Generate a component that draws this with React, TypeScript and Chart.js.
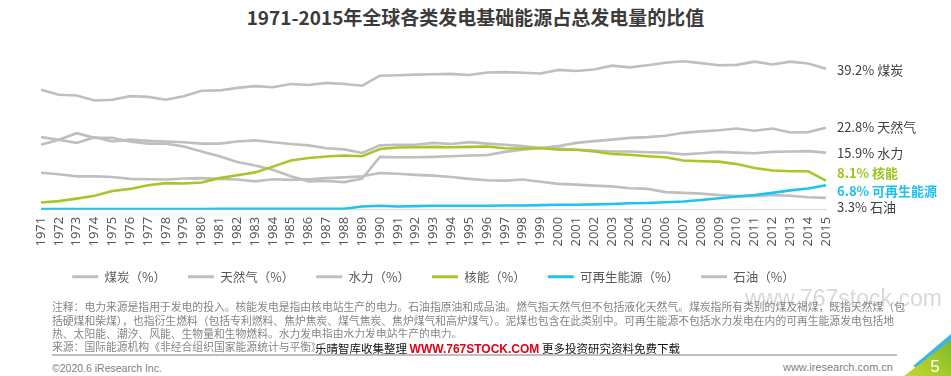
import React, { useEffect, useRef } from "react";
import { Chart, registerables } from "chart.js";
Chart.register(...registerables);

const years = ["1971","1972","1973","1974","1975","1976","1977","1978","1979","1980","1981","1982","1983","1984","1985","1986","1987","1988","1989","1990","1991","1992","1993","1994","1995","1996","1997","1998","1999","2000","2001","2002","2003","2004","2005","2006","2007","2008","2009","2010","2011","2012","2013","2014","2015"];

const coal = [33.4,32.0,31.8,30.4,30.6,31.6,31.4,30.6,31.6,33.1,33.2,33.9,34.4,34.1,35.0,34.7,35.3,35.0,34.5,37.3,37.4,37.6,37.7,37.8,37.5,38.2,38.3,38.1,37.9,38.9,38.6,39.0,40.1,39.6,40.2,40.9,41.3,40.8,40.2,40.3,41.2,40.4,41.2,40.7,39.2];
const gas = [18.1,19.5,21.3,20.0,20.0,19.0,18.4,18.4,17.6,16.2,14.9,13.3,12.3,11.1,9.3,7.9,8.0,7.7,8.7,14.7,14.6,14.6,14.7,14.9,15.1,15.2,16.1,16.7,17.2,17.7,18.6,19.1,19.5,20.0,20.2,20.6,21.4,21.8,22.1,22.6,22.0,22.6,21.5,21.6,22.8];
const hydro = [20.2,19.5,18.6,20.2,19.0,19.5,19.2,19.0,18.8,18.4,18.4,19.0,19.3,18.8,18.3,17.9,17.1,16.8,15.8,17.9,18.1,18.1,18.6,18.3,18.8,18.4,18.1,17.7,17.2,17.0,16.7,16.5,16.2,16.2,16.0,15.9,15.4,15.7,16.1,15.9,15.7,16.1,16.2,16.3,15.9];
const nuclear = [2.0,2.4,3.1,3.9,5.2,5.8,6.8,7.4,7.3,7.6,8.8,9.6,10.4,12.0,13.7,14.4,14.8,15.1,14.9,16.9,17.3,17.4,17.5,17.4,17.5,17.6,17.1,17.0,17.2,16.7,16.7,16.2,15.5,15.3,14.9,14.6,13.7,13.5,13.4,12.7,11.6,10.9,10.7,10.7,8.1];
const renewables = [0.2,0.2,0.2,0.2,0.2,0.2,0.2,0.2,0.2,0.2,0.3,0.3,0.3,0.3,0.3,0.3,0.3,0.3,0.9,1.1,0.9,1.0,1.1,1.1,1.1,1.1,1.2,1.2,1.3,1.4,1.4,1.5,1.6,1.8,1.9,2.1,2.3,2.7,3.2,3.7,4.1,4.7,5.4,5.9,6.8];
const oil = [10.3,9.9,9.3,9.3,9.1,8.6,8.5,8.4,8.7,8.8,8.6,8.4,7.9,8.5,8.3,8.5,8.8,9.0,9.3,10.2,10.0,9.7,9.5,9.1,8.6,8.2,8.1,8.4,7.8,7.2,7.0,6.7,6.5,6.0,5.8,4.9,4.7,4.5,4.1,3.8,3.8,4.1,3.9,3.5,3.3];

const seriesNames = ["煤炭", "天然气", "水力", "核能", "可再生能源", "石油"];
const legendSuffix = "（%）";

const GREY = "#bfbfbf";
const GREEN = "#a5c829";
const BLUE = "#1fc3f0";
const FONT = "'Noto Sans', 'Noto Sans CJK SC', sans-serif";
const CJK = "'Noto Sans CJK SC', 'Noto Sans', sans-serif";

export default function App() {
  const ref = useRef<HTMLCanvasElement>(null);

  useEffect(() => {
    document.body.style.margin = "0";
    document.body.style.overflow = "hidden";
    const values = [coal, gas, hydro, nuclear, renewables, oil];
    const colors = [GREY, GREY, GREY, GREEN, BLUE, GREY];
    const labelColors = ["#404040", "#404040", "#404040", "#9cc41e", "#1ec0ef", "#404040"];
    const labelBold = [false, false, false, true, true, false];
    const labelShift = [1, -1, 0, -8, 5.5, 9.5];

    const endLabels = {
      id: "endLabels",
      afterLayout(chart: any) {
        if (chart.legend) {
          chart.legend.top -= 5;
          chart.legend.bottom -= 5;
        }
      },
      afterDatasetsDraw(chart: any) {
        const ctx = chart.ctx;
        const area = chart.chartArea;
        ctx.save();
        ctx.textBaseline = "middle";
        ctx.textAlign = "left";
        chart.data.datasets.forEach((ds: any, i: number) => {
          const meta = chart.getDatasetMeta(i);
          const pt = meta.data[meta.data.length - 1];
          const v = ds.data[ds.data.length - 1];
          ctx.font = `${labelBold[i] ? "bold " : ""}13px ${CJK}`;
          ctx.fillStyle = labelColors[i];
          ctx.fillText(`${v.toFixed(1)}% ${seriesNames[i]}`, area.right + 11, pt.y + labelShift[i]);
        });
        ctx.restore();
      },
    };

    const chart = new Chart(ref.current!, {
      type: "line",
      data: {
        labels: years,
        datasets: values.map((d, i) => ({
          label: seriesNames[i] + legendSuffix,
          data: d,
          borderColor: colors[i],
          backgroundColor: colors[i],
          borderWidth: 2.6,
          pointRadius: 0,
          tension: 0,
          order: i === 3 || i === 4 ? 0 : 1,
        })),
      },
      options: {
        animation: false,
        responsive: false,
        devicePixelRatio: 1,
        layout: { padding: { left: 41, right: 125, top: 48, bottom: 0 } },
        scales: {
          x: {
            offset: false,
            grid: { display: false, drawTicks: false },
            border: { display: true, color: "#d9d9d9", width: 1 },
            ticks: {
              autoSkip: false,
              minRotation: 90,
              maxRotation: 90,
              padding: 7,
              color: "#595959",
              font: { size: 13, family: FONT },
            },
          },
          y: { display: false, min: 0, max: 45 },
        },
        plugins: {
          tooltip: { enabled: false },
          legend: {
            position: "bottom",
            labels: {
              boxWidth: 26,
              boxHeight: 3,
              padding: 22,
              color: "#595959",
              font: { size: 12.5, family: CJK },
              generateLabels: (c: any) =>
                (Chart.defaults.plugins.legend.labels.generateLabels as any)(c)
                  .sort((a: any, b: any) => a.datasetIndex - b.datasetIndex)
                  .map((l: any) => ({ ...l, lineWidth: 0 })),
            },
          },
        },
      },
      plugins: [endLabels],
    });
    return () => chart.destroy();
  }, []);

  const noteStyle: React.CSSProperties = {
    position: "absolute",
    left: 52,
    fontSize: 10.8,
    lineHeight: "14px",
    color: "#858585",
    fontFamily: CJK,
    whiteSpace: "nowrap",
  };

  return (
    <div style={{ position: "relative", width: 951, height: 376, overflow: "hidden", background: "#fff", fontFamily: CJK }}>
      <div style={{ position: "absolute", left: 0, width: 951, top: 5, textAlign: "center", fontSize: 19, fontWeight: 700, color: "#3b3b3b", fontFamily: CJK, lineHeight: "24px" }}>
        1971-2015年全球各类发电基础能源占总发电量的比值
      </div>
      <canvas ref={ref} width={951} height={298} style={{ position: "absolute", left: 0, top: 0, width: 951, height: 298 }} />
      <div style={{ position: "absolute", left: 745, top: 284, fontSize: 23, color: "#d9d9d9", fontFamily: "'Liberation Sans', Arial, sans-serif", whiteSpace: "nowrap", lineHeight: "28px" }}>
        www.767stock.com
      </div>
      <div style={{ ...noteStyle, top: 299 }}>
        注释：电力来源是指用于发电的投入。核能发电是指由核电站生产的电力。石油指原油和成品油。燃气指天然气但不包括液化天然气。煤炭指所有类别的煤及褐煤，既指天然煤（包
      </div>
      <div style={{ ...noteStyle, top: 312.5 }}>
        括硬煤和柴煤），也指衍生燃料（包括专利燃料、焦炉焦炭、煤气焦炭、焦炉煤气和高炉煤气）。泥煤也包含在此类别中。可再生能源不包括水力发电在内的可再生能源发电包括地
      </div>
      <div style={{ ...noteStyle, top: 325.5 }}>
        热、太阳能、潮汐、风能、生物量和生物燃料。水力发电指由水力发电站生产的电力。
      </div>
      <div style={{ ...noteStyle, top: 339, background: "#fff", paddingRight: 4 }}>
        来源：国际能源机构《非经合组织国家能源统计与平衡》
      </div>
      <div style={{ position: "absolute", left: 315, top: 338, whiteSpace: "nowrap", lineHeight: "16px", fontFamily: CJK, background: "#fff" }}>
        <span style={{ fontSize: 11.5, color: "#111" }}>乐晴智库收集整理 </span>
        <span style={{ fontSize: 12, color: "#e60012", fontWeight: 700, fontFamily: "'Liberation Sans', Arial, sans-serif" }}>WWW.767STOCK.COM</span>
        <span style={{ fontSize: 11.5, color: "#111" }}> 更多投资研究资料免费下载</span>
      </div>
      <div style={{ position: "absolute", left: 52, top: 354, width: 845, height: 1.5, background: "#bfbfbf" }} />
      <div style={{ position: "absolute", left: 52, top: 361, fontSize: 10.5, color: "#7f7f7f", fontFamily: "'Liberation Sans', Arial, sans-serif", lineHeight: "14px" }}>
        ©2020.6 iResearch Inc.
      </div>
      <div style={{ position: "absolute", right: 58, top: 360, fontSize: 11, color: "#7f7f7f", fontFamily: "'Liberation Sans', Arial, sans-serif", lineHeight: "14px" }}>
        www.iresearch.com.cn
      </div>
      <svg style={{ position: "absolute", left: 895, top: 326 }} width={56} height={50}>
        <defs>
          <linearGradient id="gg" x1="0" y1="1" x2="1" y2="0">
            <stop offset="0" stopColor="#c6d82c" />
            <stop offset="1" stopColor="#7dbb2a" />
          </linearGradient>
        </defs>
        <polygon points="18,40 56,8 56,22 28,44" fill="#3db5e6" />
        <polygon points="9,50 56,14 56,50" fill="url(#gg)" />
        <text x={40} y={46} fill="#fff" fontSize={17} fontFamily="'Liberation Sans', Arial, sans-serif" textAnchor="middle">5</text>
      </svg>
    </div>
  );
}
